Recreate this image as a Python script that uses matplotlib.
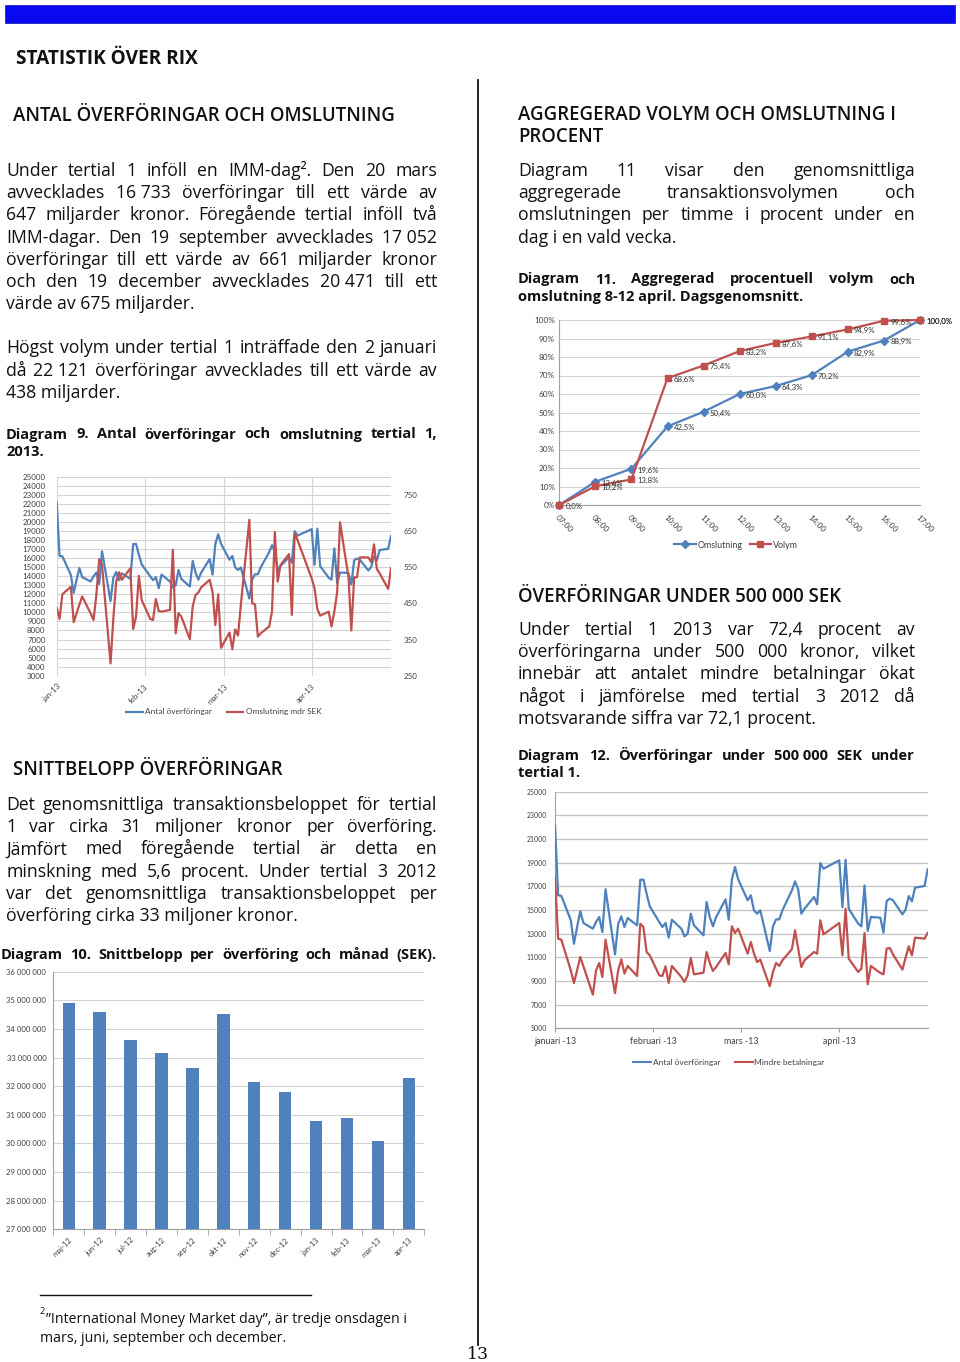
import matplotlib
matplotlib.use('Agg')
import matplotlib.pyplot as plt
from matplotlib.font_manager import FontProperties
from matplotlib.lines import Line2D
from matplotlib.patches import Rectangle
import matplotlib.dates as mdates
import datetime as dt
import numpy as np

# ---------------- DATA ----------------
DAYS = ["01-02", "01-03", "01-04", "01-07", "01-08", "01-09", "01-10", "01-11", "01-14", "01-15",
        "01-16", "01-17", "01-18", "01-21", "01-22", "01-23", "01-24", "01-25", "01-28", "01-29",
        "01-30", "01-31",
        "02-01", "02-04", "02-05", "02-06", "02-07", "02-08", "02-11", "02-12", "02-13", "02-14",
        "02-15", "02-18", "02-19", "02-20", "02-21", "02-22", "02-25", "02-26", "02-27", "02-28",
        "03-01", "03-04", "03-05", "03-06", "03-07", "03-08", "03-11", "03-12", "03-13", "03-14",
        "03-15", "03-18", "03-19", "03-20", "03-21", "03-22", "03-25", "03-26", "03-27", "03-28",
        "04-02", "04-03", "04-04", "04-05", "04-08", "04-09", "04-10", "04-11", "04-12", "04-15",
        "04-16", "04-17", "04-18", "04-19", "04-22", "04-23", "04-24", "04-25", "04-26", "04-29",
        "04-30"]

ANTAL = [22121, 16240, 16200, 14130, 12150, 13560, 14900, 13900, 13420, 13990, 14400, 13140, 16750,
         11250, 13840, 14460, 13560, 14320, 13700, 17560, 17560, 16380,
         15310, 13990, 13560, 13900, 12660, 14180, 13420, 12770, 13000, 14690, 13700, 12860, 15680,
         14400, 13620, 14400, 15900, 14180, 17590, 18630,
         17590, 15820, 16240, 14970, 14690, 14970, 11535, 13620, 14210, 14210, 14970, 16660, 17420,
         16733, 14690, 15110, 16100, 15480, 18970, 18490,
         19200, 15250, 19250, 15110, 13840, 13620, 17080, 13230, 14410, 14350, 13080, 15760, 15960,
         15820, 14630, 15030, 16180, 15730, 16890, 17030, 18440]

OMSLUTNING = [438, 407, 475, 496, 398, 422, 446, 469, 422, 404, 473, 572, 556, 284, 409, 510, 536,
              515, 547, 379, 413, 526,
              459, 407, 404, 462, 429, 427, 432, 598, 367, 423, 413, 351, 441, 473, 480, 494, 515,
              482, 390, 475,
              327, 369, 323, 378, 361, 446, 681, 450, 447, 358, 367, 386, 427, 647, 510, 556, 586,
              418, 644, 625,
              519, 492, 434, 416, 427, 386, 427, 481, 674, 522, 375, 522, 522, 577, 577, 564, 613,
              545, 533, 490, 547]

MINDRE = [17845, 12580, 12490, 9900, 8830, 9900, 11030, 10240, 7840, 9900, 10520, 9340, 12490, 7980,
          9900, 10830, 9620, 10270, 9420, 13840, 13560, 11450,
          11170, 9480, 9420, 10240, 8830, 10270, 9340, 8920, 9480, 10940, 9560, 9700, 11450, 10520,
          9850, 10180, 11370, 10410, 13620, 13060,
          13420, 11310, 12300, 11310, 10600, 10800, 8550, 9760, 10520, 10270, 10750, 11680, 13280,
          11730, 10180, 10750, 11450, 11310, 14130, 12940,
          13900, 11170, 15110, 10890, 9760, 10040, 13060, 8720, 10270, 9680, 9560, 11730, 11790,
          11250, 9960, 10970, 11930, 11170, 12660, 12580, 13060]

MONTH_TICKS = ["01-02", "02-02", "03-02", "04-02"]
C9_MONTH_LABELS = ["jan-13", "feb-13", "mar-13", "apr-13"]
C12_MONTH_LABELS = ["januari -13", "februari -13", "mars -13", "april -13"]

HOURS = ["07:00", "08:00", "09:00", "10:00", "11:00", "12:00", "13:00", "14:00", "15:00", "16:00", "17:00"]
OMSL_PCT = [0.0, 12.6, 19.6, 42.5, 50.4, 60.0, 64.3, 70.2, 82.9, 88.9, 100.0]
VOLYM_PCT = [0.0, 10.2, 13.8, 68.6, 75.4, 83.2, 87.6, 91.1, 94.9, 99.6, 100.0]

MONTHS10 = ["maj-12", "jun-12", "jul-12", "aug-12", "sep-12", "okt-12", "nov-12", "dec-12",
            "jan-13", "feb-13", "mar-13", "apr-13"]
SNITT = [34900000, 34600000, 33620000, 33150000, 32650000, 34520000, 32150000, 31780000,
         30770000, 30900000, 30070000, 32270000]

# ---------------- SETUP ----------------
W, H = 960, 1362
fig = plt.figure(figsize=(W / 100, H / 100), dpi=100)
fig.patch.set_facecolor('white')
renderer = fig.canvas.get_renderer()

BODY = 'Open Sans'
CHART = 'Lato'
TXT = '#111111'
BLUE = '#4F81BD'
RED = '#C0504D'


def fp(size, weight='normal', family=BODY):
    return FontProperties(family=family, size=size, weight=weight)


def width(s, prop):
    w, h, d = renderer.get_text_width_height_descent(s, prop, ismath=False)
    return w


def fit(s, target, weight='normal', family=BODY):
    return 10.0 * target / width(s, fp(10, weight, family))


def fx(x):
    return x / W


def fy(y):
    return 1 - y / H


def line(text, x0, x1, yb, size, weight='normal', justify=True, family=BODY, color=TXT):
    words = text.split(' ')
    prop = fp(size, weight, family)
    if not justify or len(words) == 1:
        fig.text(fx(x0), fy(yb), text, fontproperties=prop, va='baseline', ha='left', color=color)
        return
    ws = [width(w, prop) for w in words]
    sp = width('a a', prop) - width('aa', prop)
    gap = (x1 - x0 - sum(ws)) / (len(words) - 1)
    if gap < 0.75 * sp:
        natural = sum(ws) + 0.75 * sp * (len(words) - 1)
        prop = fp(size * (x1 - x0) / natural, weight, family)
        ws = [width(w, prop) for w in words]
        gap = (x1 - x0 - sum(ws)) / (len(words) - 1)
    x = x0
    for w, wd in zip(words, ws):
        fig.text(fx(x), fy(yb), w, fontproperties=prop, va='baseline', ha='left', color=color)
        x += wd + gap


def para(lines, x0, x1, yb0, step, size, weight='normal'):
    for i, t in enumerate(lines):
        line(t, x0, x1, yb0 + i * step, size, weight, justify=(i < len(lines) - 1))


def add_ax(x0, y0, x1, y1):
    return fig.add_axes([x0 / W, 1 - y1 / H, (x1 - x0) / W, (y1 - y0) / H])


NB = '\u00a0'
HW = 'semibold'
BODY_SIZE = fit("värde av 675 miljarder.", 188)
CAP_SIZE = fit("omslutning 8-12 april. Dagsgenomsnitt.", 285, 'bold')
HEAD_SIZE = fit("ANTAL ÖVERFÖRINGAR OCH OMSLUTNING", 380, HW)
TOP_SIZE = fit("STATISTIK ÖVER RIX", 181, 'bold')
FOOT_SIZE = fit("mars, juni, september och december.", 245)

# ---------------- PAGE DECORATION ----------------
fig.add_artist(Rectangle((fx(5), fy(23)), 950 / W, 18 / H, transform=fig.transFigure,
                         facecolor='#0A0AF2', edgecolor='#2020C0', lw=0.6))
fig.add_artist(Line2D([fx(478), fx(478)], [fy(80), fy(1345)], transform=fig.transFigure,
                      color='#111111', lw=1.3))
fig.text(fx(16), fy(64), "STATISTIK ÖVER RIX", fontproperties=fp(TOP_SIZE, 'bold'),
         va='baseline', color=TXT)

# ---------------- LEFT COLUMN TEXT ----------------
LX0, LX1 = 6, 437
fig.text(fx(13), fy(121), "ANTAL ÖVERFÖRINGAR OCH OMSLUTNING", fontproperties=fp(HEAD_SIZE, HW),
         va='baseline', color=TXT)
para(["Under tertial 1 inföll en IMM-dag². Den 20 mars",
      f"avvecklades 16{NB}733 överföringar till ett värde av",
      "647 miljarder kronor. Föregående tertial inföll två",
      f"IMM-dagar. Den 19 september avvecklades 17{NB}052",
      "överföringar till ett värde av 661 miljarder kronor",
      f"och den 19 december avvecklades 20{NB}471 till ett",
      "värde av 675 miljarder."], LX0, LX1, 176, 22.2, BODY_SIZE)
para(["Högst volym under tertial 1 inträffade den 2 januari",
      f"då 22{NB}121 överföringar avvecklades till ett värde av",
      "438 miljarder."], LX0, LX1, 353.3, 22.2, BODY_SIZE)
para(["Diagram 9. Antal överföringar och omslutning tertial 1,",
      "2013."], LX0, LX1, 438.5, 17, CAP_SIZE, 'bold')

fig.text(fx(13), fy(775), "SNITTBELOPP ÖVERFÖRINGAR", fontproperties=fp(HEAD_SIZE, HW),
         va='baseline', color=TXT)
para(["Det genomsnittliga transaktionsbeloppet för tertial",
      "1 var cirka 31 miljoner kronor per överföring.",
      "Jämfört med föregående tertial är detta en",
      "minskning med 5,6 procent. Under tertial 3 2012",
      "var det genomsnittliga transaktionsbeloppet per",
      "överföring cirka 33 miljoner kronor."], LX0, LX1, 810, 22.2, BODY_SIZE)
line("Diagram 10. Snittbelopp per överföring och månad (SEK).", 1, 437, 959, CAP_SIZE, 'bold',
     justify=True)

# ---------------- RIGHT COLUMN TEXT ----------------
RX0, RX1 = 518, 915
fig.text(fx(518), fy(120), "AGGREGERAD VOLYM OCH OMSLUTNING I", fontproperties=fp(HEAD_SIZE, HW),
         va='baseline', color=TXT)
fig.text(fx(518), fy(142), "PROCENT", fontproperties=fp(HEAD_SIZE, HW), va='baseline', color=TXT)
para(["Diagram 11 visar den genomsnittliga",
      "aggregerade transaktionsvolymen och",
      "omslutningen per timme i procent under en",
      "dag i en vald vecka."], RX0, RX1, 176, 22.2, BODY_SIZE)
para(["Diagram 11. Aggregerad procentuell volym och",
      "omslutning 8-12 april. Dagsgenomsnitt."], RX0, RX1, 283.5, 17, CAP_SIZE, 'bold')

fig.text(fx(518), fy(601.5), "ÖVERFÖRINGAR UNDER 500 000 SEK", fontproperties=fp(HEAD_SIZE, HW),
         va='baseline', color=TXT)
para(["Under tertial 1 2013 var 72,4 procent av",
      "överföringarna under 500 000 kronor, vilket",
      "innebär att antalet mindre betalningar ökat",
      "något i jämförelse med tertial 3 2012 då",
      "motsvarande siffra var 72,1 procent."], RX0, RX1, 635, 22.2, BODY_SIZE)
para([f"Diagram 12. Överföringar under 500{NB}000 SEK under",
      "tertial 1."], RX0, RX1, 760, 17, CAP_SIZE, 'bold')

# ---------------- FOOTNOTE ----------------
fig.add_artist(Line2D([fx(40), fx(311)], [fy(1295), fy(1295)], transform=fig.transFigure,
                      color='#111111', lw=1.0))
fig.text(fx(40), fy(1314), "2", fontproperties=fp(FOOT_SIZE * 0.65), va='baseline', color=TXT)
fig.text(fx(46), fy(1323), "”International Money Market day”, är tredje onsdagen i",
         fontproperties=fp(FOOT_SIZE), va='baseline', color=TXT)
fig.text(fx(40), fy(1342), "mars, juni, september och december.", fontproperties=fp(FOOT_SIZE),
         va='baseline', color=TXT)
fig.text(fx(478), fy(1359), "13", fontproperties=FontProperties(family='DejaVu Serif', size=12.5),
         va='baseline', ha='center', color=TXT)

# ---------------- CHART HELPERS ----------------
dates = [mdates.date2num(dt.date(2013, int(s[:2]), int(s[3:]))) for s in DAYS]
mticks = [mdates.date2num(dt.date(2013, int(s[:2]), int(s[3:]))) for s in MONTH_TICKS]
TICKC = '#404040'


def clean(ax):
    for s in ax.spines.values():
        s.set_visible(False)
    ax.set_facecolor('none')


# ---------------- CHART 9 ----------------
c9_tick = fit("25000", 23, family=CHART)
ax9 = add_ax(56.7, 476.7, 391, 675.7)
clean(ax9)
ax9.set_xlim(dates[0], dates[-1])
ax9.set_ylim(3000, 25000)
ax9.set_yticks(range(3000, 25001, 1000))
ax9.set_xticks(mticks)
ax9.set_xticklabels(C9_MONTH_LABELS, rotation=45, ha='right', va='top', rotation_mode='anchor')
ax9.grid(True, color='#D4D4D4', lw=0.8)
ax9.tick_params(length=0, labelsize=c9_tick, colors=TICKC, pad=8)
ax9.tick_params(axis='x', pad=5)
for t in ax9.get_xticklabels() + ax9.get_yticklabels():
    t.set_fontfamily(CHART)
ax9.plot(dates, ANTAL, color=BLUE, lw=1.6)
ax9b = ax9.twinx()
clean(ax9b)
ax9b.set_ylim(250, 800)
ax9b.set_yticks(range(250, 751, 100))
ax9b.tick_params(length=0, labelsize=c9_tick, colors=TICKC, pad=9)
for t in ax9b.get_yticklabels():
    t.set_fontfamily(CHART)
ax9b.plot(dates, OMSLUTNING, color=RED, lw=1.6)
c9_leg = fit("Antal överföringar", 66, family=CHART)
fig.legend([Line2D([], [], color=BLUE, lw=1.6), Line2D([], [], color=RED, lw=1.6)],
           ["Antal överföringar", "Omslutning mdr SEK"], loc='center',
           bbox_to_anchor=(fx(224), fy(712)), ncol=2, frameon=False,
           prop=fp(c9_leg, family=CHART), handlelength=2.0, handletextpad=0.3,
           columnspacing=1.8, labelcolor=TICKC)

# ---------------- CHART 11 ----------------
c11_tick = fit("100%", 21, family=CHART)
ax11 = add_ax(559.3, 320, 920, 505)
clean(ax11)
x11 = np.arange(len(HOURS))
ax11.set_xlim(0, len(HOURS) - 1)
ax11.set_ylim(0, 100)
ax11.set_yticks(range(0, 101, 10))
ax11.set_yticklabels([f"{v}%" for v in range(0, 101, 10)])
ax11.set_xticks(x11)
ax11.set_xticklabels(HOURS, rotation=-45, ha='left', va='top', rotation_mode='anchor')
ax11.yaxis.grid(True, color='#D4D4D4', lw=0.8)
ax11.spines['left'].set_visible(True)
ax11.spines['left'].set_color('#A0A0A0')
ax11.spines['bottom'].set_visible(True)
ax11.spines['bottom'].set_color('#A0A0A0')
ax11.tick_params(length=0, labelsize=c11_tick, colors=TICKC)
ax11.tick_params(axis='y', pad=3)
ax11.tick_params(axis='x', pad=6)
for t in ax11.get_xticklabels() + ax11.get_yticklabels():
    t.set_fontfamily(CHART)
ax11.plot(x11, OMSL_PCT, color=BLUE, lw=1.6, marker='D', markersize=3.8, clip_on=False, zorder=3)
ax11.plot(x11, VOLYM_PCT, color=RED, lw=1.6, marker='s', markersize=4.6, clip_on=False, zorder=4)
c11_lab = fit("100,0%", 26, family=CHART)
for i in range(len(HOURS)):
    for vals in (OMSL_PCT, VOLYM_PCT):
        if i == 0 and vals is OMSL_PCT:
            continue
        ax11.annotate(f"{vals[i]:.1f}".replace('.', ',') + '%', (x11[i], vals[i]),
                      xytext=(4.5, -1), textcoords='offset points', va='center', ha='left',
                      fontsize=c11_lab, family=CHART, color='#303030', zorder=5,
                      annotation_clip=False)
fig.legend([Line2D([], [], color=BLUE, lw=1.6, marker='D', markersize=3.8),
            Line2D([], [], color=RED, lw=1.6, marker='s', markersize=4.6)],
           ["Omslutning", "Volym"], loc='center', bbox_to_anchor=(fx(736), fy(545)), ncol=2,
           frameon=False, prop=fp(fit("Omslutning", 45, family=CHART), family=CHART),
           handlelength=2.4, handletextpad=0.2, columnspacing=0.8, labelcolor=TICKC)

# ---------------- CHART 12 ----------------
c12_tick = fit("25000", 20, family=CHART)
ax12 = add_ax(555, 791.7, 927.7, 1028.3)
clean(ax12)
ax12.set_xlim(dates[0], dates[-1])
ax12.set_ylim(5000, 25000)
ax12.set_yticks(range(5000, 25001, 2000))
ax12.set_xticks(mticks)
ax12.set_xticklabels(C12_MONTH_LABELS)
ax12.yaxis.grid(True, color='#C4C4C4', lw=0.9)
ax12.spines['left'].set_visible(True)
ax12.spines['left'].set_color('#A0A0A0')
ax12.spines['bottom'].set_visible(True)
ax12.spines['bottom'].set_color('#A0A0A0')
ax12.tick_params(axis='y', length=0, labelsize=c12_tick, colors=TICKC, pad=6)
ax12.tick_params(axis='x', length=3, color='#A0A0A0', labelsize=fit("januari -13", 42, family=CHART),
                 labelcolor=TICKC, pad=3)
for t in ax12.get_xticklabels() + ax12.get_yticklabels():
    t.set_fontfamily(CHART)
ax12.plot(dates, ANTAL, color=BLUE, lw=1.6, zorder=3)
ax12.plot(dates, MINDRE, color=RED, lw=1.6, zorder=3)
c12_leg = fit("Mindre betalningar", 70, family=CHART)
fig.legend([Line2D([], [], color=BLUE, lw=1.5), Line2D([], [], color=RED, lw=1.5)],
           ["Antal överföringar", "Mindre betalningar"], loc='center',
           bbox_to_anchor=(fx(729), fy(1062)), ncol=2, frameon=False,
           prop=fp(c12_leg, family=CHART), handlelength=2.1, handletextpad=0.2,
           columnspacing=1.8, labelcolor=TICKC)

# ---------------- CHART 10 ----------------
c10_tick = fit("36 000 000", 40, family=CHART)
ax10 = add_ax(53.3, 971.7, 424.3, 1229.3)
clean(ax10)
x10 = np.arange(len(MONTHS10))
ax10.bar(x10, SNITT, width=0.4, color=BLUE, zorder=3)
ax10.set_xlim(-0.5, len(MONTHS10) - 0.5)
ax10.set_ylim(27000000, 36000000)
yt = list(range(27000000, 36000001, 1000000))
ax10.set_yticks(yt)
ax10.set_yticklabels([f"{v:,}".replace(',', ' ') for v in yt])
ax10.set_xticks(x10)
ax10.set_xticklabels(MONTHS10, rotation=45, ha='right', va='top', rotation_mode='anchor')
ax10.set_xticks(np.arange(-0.5, len(MONTHS10), 1.0), minor=True)
ax10.yaxis.grid(True, color='#D4D4D4', lw=0.8)
ax10.spines['left'].set_visible(True)
ax10.spines['left'].set_color('#A0A0A0')
ax10.spines['bottom'].set_visible(True)
ax10.spines['bottom'].set_color('#A0A0A0')
ax10.tick_params(axis='y', length=0, labelsize=c10_tick, colors=TICKC, pad=5)
ax10.tick_params(axis='x', which='major', length=0, labelsize=c10_tick, colors=TICKC, pad=5)
ax10.tick_params(axis='x', which='minor', length=4, color='#A0A0A0')
for t in ax10.get_xticklabels() + ax10.get_yticklabels():
    t.set_fontfamily(CHART)

fig.savefig('out.png', dpi=100, facecolor='white')
